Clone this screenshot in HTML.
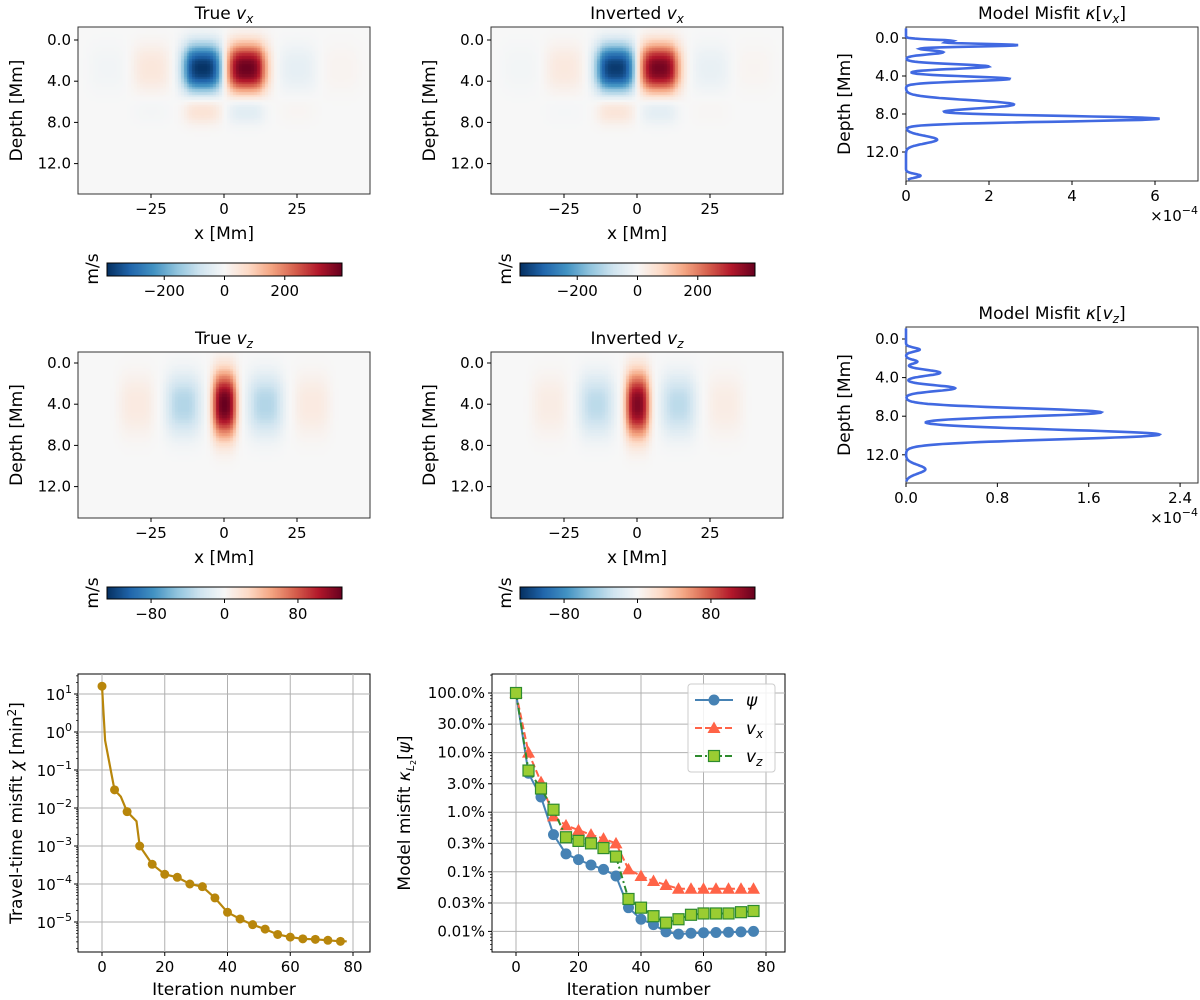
<!DOCTYPE html>
<html><head><meta charset="utf-8">
<style>
html,body{margin:0;padding:0;background:#fff;}
#wrap{position:relative;width:1200px;height:1000px;overflow:hidden;}
svg{position:absolute;left:0;top:0;}
canvas{position:absolute;}
text{font-family:"DejaVu Sans","Liberation Sans",sans-serif;fill:#000;}
</style></head>
<body>
<div id="wrap">
<canvas id="h1" width="292" height="167" style="left:78px;top:27px"></canvas>
<canvas id="h2" width="292" height="167" style="left:491px;top:27px"></canvas>
<canvas id="h3" width="292" height="166" style="left:78px;top:352px"></canvas>
<canvas id="h4" width="292" height="166" style="left:491px;top:352px"></canvas>
<canvas id="c1" width="235" height="13" style="left:107px;top:263px"></canvas>
<canvas id="c2" width="235" height="13" style="left:520px;top:263px"></canvas>
<canvas id="c3" width="235" height="12" style="left:107px;top:587px"></canvas>
<canvas id="c4" width="235" height="12" style="left:520px;top:587px"></canvas>
<svg id="s" width="1200" height="1000" xmlns="http://www.w3.org/2000/svg"></svg>
</div>
<script>
// ---------- DATA ----------
const vxTrueX   = [-7.5, 7.5, -25, 25, -40, 40, -7.5, 7.5, -25, 25];
const vxTrueZ   = [2.7, 2.7, 2.7, 2.7, 2.7, 2.7, 6.7, 6.7, 6.7, 6.7];
const vxTrueA   = [-385, 385, 45, -35, -12, 12, 60, -50, -8, 8];
const vxInvA    = [-375, 375, 40, -30, -10, 10, 55, -45, -6, 6];
const vxSX      = [7, 7, 6.5, 6.5, 6.5, 6.5, 6.5, 6.5, 6.5, 6.5];
const vxSZ      = [2.3, 2.3, 2.3, 2.3, 2.3, 2.3, 1.4, 1.4, 1.4, 1.4];
const vzTrueX   = [0, -14, 14, -30, 30];
const vzTrueZ   = [4, 4, 4, 4, 4];
const vzTrueA   = [128, -38, -38, 12, 12];
const vzInvA    = [120, -34, -34, 10, 10];
const vzSX      = [4.2, 6, 6, 6, 6];
const vzSZ      = [3.1, 2.9, 2.9, 2.9, 2.9];
const vxRange = 390, vzRange = 128;
const vxCbTicks = [-200, 0, 200];
const vzCbTicks = [-80, 0, 80];

const kxDepth  = [0.3, 0.75, 1.5, 3.0, 4.3, 7.0, 8.5, 10.7, 14.5];
const kxHeight = [1.1, 2.7, 0.9, 2.0, 2.5, 2.6, 6.1, 0.75, 0.35];
const kxWidth  = [0.13, 0.15, 0.22, 0.24, 0.25, 0.45, 0.3, 0.4, 0.2];
const kzDepth  = [1.1, 2.35, 3.5, 5.1, 7.6, 9.9, 13.5];
const kzHeight = [0.12, 0.1, 0.3, 0.43, 1.71, 2.22, 0.17];
const kzWidth  = [0.2, 0.2, 0.3, 0.3, 0.42, 0.5, 0.45];

const ttIter = [0, 1, 4, 6, 8, 11, 12, 16, 20, 24, 28, 32, 36, 40, 44, 48, 52, 56, 60, 64, 68, 72, 76, 78];
const ttVal  = [16, 0.6, 0.03, 0.02, 0.008, 0.0045, 0.001, 3.3e-4, 1.8e-4, 1.5e-4, 1.0e-4, 8.5e-5, 4.3e-5, 1.8e-5, 1.2e-5, 8.5e-6, 6.5e-6, 4.7e-6, 4.0e-6, 3.6e-6, 3.5e-6, 3.3e-6, 3.1e-6, 3.1e-6];
const mIter = [0, 4, 8, 12, 16, 20, 24, 28, 32, 36, 40, 44, 48, 52, 56, 60, 64, 68, 72, 76];
const psiVal = [100, 4.5, 1.8, 0.42, 0.2, 0.16, 0.13, 0.11, 0.085, 0.025, 0.016, 0.013, 0.0098, 0.009, 0.0093, 0.0095, 0.0096, 0.0097, 0.0098, 0.01];
const vxVal  = [100, 10, 3.2, 0.85, 0.6, 0.5, 0.42, 0.36, 0.3, 0.11, 0.085, 0.07, 0.06, 0.052, 0.052, 0.052, 0.052, 0.052, 0.052, 0.052];
const vzVal  = [100, 5, 2.5, 1.1, 0.38, 0.33, 0.3, 0.25, 0.18, 0.035, 0.025, 0.018, 0.014, 0.016, 0.019, 0.02, 0.02, 0.02, 0.021, 0.022];
const pctTicks = [100, 30, 10, 3, 1, 0.3, 0.1, 0.03, 0.01];
const pctLabels = ['100.0%', '30.0%', '10.0%', '3.0%', '1.0%', '0.3%', '0.1%', '0.03%', '0.01%'];

// ---------- HELPERS ----------
const NS = 'http://www.w3.org/2000/svg';
const S = document.getElementById('s');
function el(t, a, p) { const e = document.createElementNS(NS, t); for (const k in a) e.setAttribute(k, a[k]); (p || S).appendChild(e); return e; }
function tag(e, n) {
  
  
  return e;
}
function txt(x, y, s, size, anchor, name, rot) {
  const t = el('text', { x: x, y: y, 'font-size': size, 'text-anchor': anchor || 'middle' });
  if (rot) t.setAttribute('transform', 'rotate(-90 ' + x + ' ' + y + ')');
  t.innerHTML = s;
  tag(t, name);
  return t;
}
const RdBu = ['#053061', '#2166ac', '#4393c3', '#92c5de', '#d1e5f0', '#f7f7f7', '#fddbc7', '#f4a582', '#d6604d', '#b2182b', '#67001f'];
function hex(h) { return [parseInt(h.substr(1, 2), 16), parseInt(h.substr(3, 2), 16), parseInt(h.substr(5, 2), 16)]; }
const RdBuRGB = RdBu.map(hex);
function cmap(v) {
  v = Math.max(-1, Math.min(1, v));
  const f = (v + 1) / 2 * 10; const i = Math.min(9, Math.floor(f)); const r = f - i;
  const a = RdBuRGB[i], b = RdBuRGB[i + 1];
  return [a[0] + (b[0] - a[0]) * r, a[1] + (b[1] - a[1]) * r, a[2] + (b[2] - a[2]) * r];
}
function field(x, z, X, Z, A, SX, SZ) {
  let s = 0;
  for (let i = 0; i < X.length; i++) {
    const dx = Math.abs(x - X[i]) / SX[i], dz = Math.abs(z - Z[i]) / SZ[i];
    s += A[i] * Math.exp(-Math.pow(dx, 3.2) - Math.pow(dz, 2.4));
  }
  return s;
}
function heat(id, X, Z, A, SX, SZ, range, zTop, zPerPx) {
  const c = document.getElementById(id), ctx = c.getContext('2d');
  const img = ctx.createImageData(c.width, c.height);
  for (let py = 0; py < c.height; py++) for (let px = 0; px < c.width; px++) {
    let x = -50 + px / c.width * 100, z = zTop + py * zPerPx;
    x = Math.floor(x + 50) - 50 + 0.5; z = Math.floor(z * 4) / 4 + 0.125;
    const col = cmap(field(x, z, X, Z, A, SX, SZ) / range);
    const k = (py * c.width + px) * 4;
    img.data[k] = col[0]; img.data[k + 1] = col[1]; img.data[k + 2] = col[2]; img.data[k + 3] = 255;
  }
  ctx.putImageData(img, 0, 0);
}
function cbar(id) {
  const c = document.getElementById(id), ctx = c.getContext('2d');
  for (let px = 0; px < c.width; px++) { const col = cmap(-1 + 2 * (px + 0.5) / c.width); ctx.fillStyle = 'rgb(' + col.map(Math.round).join(',') + ')'; ctx.fillRect(px, 0, 1, c.height); }
}

heat('h1', vxTrueX, vxTrueZ, vxTrueA, vxSX, vxSZ, vxRange, -1.26, 1 / 10.3);
heat('h2', vxTrueX, vxTrueZ, vxInvA, vxSX, vxSZ, vxRange, -1.26, 1 / 10.3);
heat('h3', vzTrueX, vzTrueZ, vzTrueA, vzSX, vzSZ, vzRange, -1.07, 1 / 10.3);
heat('h4', vzTrueX, vzTrueZ, vzInvA, vzSX, vzSZ, vzRange, -1.07, 1 / 10.3);
['c1', 'c2', 'c3', 'c4'].forEach(cbar);

function heatPanel(L, T, H, y0, title, cbT, cbH, cbTicks, range, nm) {
  const W = 292;
  const fr = el('rect', { x: L, y: T, width: W, height: H, fill: 'none', stroke: '#333', 'stroke-width': 1 });
  tag(fr, nm + '-frame');
  txt(L + W / 2, T - 8, title, 17, 'middle', nm + '-title');
  [0, 4, 8, 12].forEach(d => {
    const y = y0 + d * 10.3;
    el('line', { x1: L - 4, x2: L, y1: y, y2: y, stroke: '#000' });
    txt(L - 7, y + 5, d.toFixed(1), 15, 'end', nm + '-ytick');
  });
  [-25, 0, 25].forEach(v => {
    const x = L + (v + 50) / 100 * W;
    el('line', { x1: x, x2: x, y1: T + H, y2: T + H + 4, stroke: '#000' });
    txt(x, T + H + 20, (v < 0 ? '\u2212' + (-v) : v), 15, 'middle', nm + '-xtick');
  });
  txt(L - 56, T + H / 2, 'Depth [Mm]', 17, 'middle', nm + '-ylabel', true);
  txt(L + W / 2, T + H + 45, 'x [Mm]', 17, 'middle', nm + '-xlabel');
  const cl = L + 29, cw = 235;
  const cf = el('rect', { x: cl, y: cbT, width: cw, height: cbH, fill: 'none', stroke: '#000', 'stroke-width': 1 });
  tag(cf, nm + '-colorbar-frame');
  cbTicks.forEach(v => {
    const x = cl + (v + range) / (2 * range) * cw;
    el('line', { x1: x, x2: x, y1: cbT + cbH, y2: cbT + cbH + 4, stroke: '#000' });
    txt(x, cbT + cbH + 20, (v < 0 ? '\u2212' + (-v) : v), 15, 'middle', nm + '-colorbar-tick');
  });
  txt(L + 20, cbT + 6, 'm/s', 17, 'middle', nm + '-colorbar-label', true);
}
const vsub = s => '<tspan font-style="italic">v</tspan><tspan font-style="italic" font-size="12" dy="4">' + s + '</tspan>';
heatPanel(78, 27, 167, 40, 'True ' + vsub('x'), 263, 13, vxCbTicks, vxRange, 'true-vx');
heatPanel(491, 27, 167, 40, 'Inverted ' + vsub('x'), 263, 13, vxCbTicks, vxRange, 'inverted-vx');
heatPanel(78, 352, 166, 363, 'True ' + vsub('z'), 587, 12, vzCbTicks, vzRange, 'true-vz');
heatPanel(491, 352, 166, 363, 'Inverted ' + vsub('z'), 587, 12, vzCbTicks, vzRange, 'inverted-vz');

function profile(T, B, y0, pxPerMm, xPer, ticks, tickLbl, D, Hh, Wd, title, nm) {
  const L = 906, R = 1198;
  const fr = el('rect', { x: L, y: T, width: R - L, height: B - T, fill: 'none', stroke: '#333' });
  tag(fr, nm + '-frame');
  txt((L + R) / 2, T - 8, title, 17, 'middle', nm + '-title');
  [0, 4, 8, 12].forEach(d => {
    const y = y0 + d * pxPerMm;
    el('line', { x1: L - 4, x2: L, y1: y, y2: y, stroke: '#000' });
    txt(L - 7, y + 5, d.toFixed(1), 15, 'end', nm + '-ytick');
  });
  ticks.forEach((v, i) => {
    const x = L + v * xPer;
    el('line', { x1: x, x2: x, y1: B, y2: B + 4, stroke: '#000' });
    txt(x, B + 20, tickLbl[i], 15, 'middle', nm + '-xtick');
  });
  txt(1198, B + 40, '\u00d710<tspan font-size="11" dy="-7">\u22124</tspan>', 15, 'end', nm + '-offset-label');
  txt(L - 56, (T + B) / 2, 'Depth [Mm]', 17, 'middle', nm + '-ylabel', true);
  const zTop = (T - y0) / pxPerMm, zBot = (B - y0) / pxPerMm;
  let d = '';
  for (let i = 0; i <= 400; i++) {
    const z = zTop + 0.15 + (zBot - zTop - 0.3) * i / 400;
    let v = 0;
    for (let k = 0; k < D.length; k++) v += Hh[k] * Math.exp(-Math.pow((z - D[k]) / Wd[k], 2) / 2);
    d += (i ? 'L' : 'M') + (L + v * xPer).toFixed(1) + ',' + (y0 + z * pxPerMm).toFixed(1);
  }
  const p = el('path', { d: d, fill: 'none', stroke: '#4169e1', 'stroke-width': 2.6 });
  tag(p, nm + '-curve');
}
const ksub = s => 'Model Misfit <tspan font-style="italic">\u03ba</tspan>[' + vsub(s) + '<tspan dy="-4">]</tspan>';
profile(27, 181, 38, 9.5, 41.5, [0, 2, 4, 6], ['0', '2', '4', '6'], kxDepth, kxHeight, kxWidth, ksub('x'), 'misfit-vx');
profile(327, 483, 339, 9.65, 114.2, [0, 0.8, 1.6, 2.4], ['0.0', '0.8', '1.6', '2.4'], kzDepth, kzHeight, kzWidth, ksub('z'), 'misfit-vz');

function logPanel(L, R, T, B, x0, xPer, yOfLog, logMin, logMax, nm) {
  const fr = el('rect', { x: L, y: T, width: R - L, height: B - T, fill: 'none', stroke: '#000' });
  tag(fr, nm + '-frame');
  [0, 20, 40, 60, 80].forEach(v => {
    const x = x0 + v * xPer;
    el('line', { x1: x, x2: x, y1: T, y2: B, stroke: '#b0b0b0', 'stroke-width': 1 });
    el('line', { x1: x, x2: x, y1: B, y2: B + 4, stroke: '#000' });
    txt(x, B + 20, v, 15, 'middle', nm + '-xtick');
  });
  for (let e = Math.floor(logMin); e <= Math.ceil(logMax); e++) for (let m = 2; m < 10; m++) {
    const lv = e + Math.log10(m);
    if (lv < logMin || lv > logMax) continue;
    const y = yOfLog(lv);
    el('line', { x1: L - 2, x2: L, y1: y, y2: y, stroke: '#000', 'stroke-width': 0.7 });
  }
  txt((L + R) / 2, B + 43, 'Iteration number', 17, 'middle', nm + '-xlabel');
}
const ttL = 78, ttR = 370, ttT = 674, ttB = 952;
const ttX = v => 102 + v * 3.1375;
const ttY = lv => 694 + (1 - lv) * 38;
logPanel(ttL, ttR, ttT, ttB, 102, 3.1375, ttY, -5.79, 1.53, 'travel-time');
for (let e = -5; e <= 1; e++) {
  const y = ttY(e);
  el('line', { x1: ttL, x2: ttR, y1: y, y2: y, stroke: '#b0b0b0' });
  el('line', { x1: ttL - 4, x2: ttL, y1: y, y2: y, stroke: '#000' });
  txt(ttL - 6, y + 6, '10<tspan font-size="11" dy="-7">' + (e < 0 ? '\u2212' + (-e) : e) + '</tspan>', 15, 'end', 'travel-time-ytick');
}
txt(22, 813, 'Travel-time misfit <tspan font-style="italic">\u03c7</tspan> [min<tspan font-size="12" dy="-6">2</tspan><tspan dy="6">]</tspan>', 17, 'middle', 'travel-time-ylabel', true);
let ttd = '';
ttIter.forEach((v, i) => { ttd += (i ? 'L' : 'M') + ttX(v).toFixed(1) + ',' + ttY(Math.log10(ttVal[i])).toFixed(1); });
const ttl = el('path', { d: ttd, fill: 'none', stroke: '#b8860b', 'stroke-width': 2.2 });
tag(ttl, 'travel-time-line');
ttIter.forEach((v, i) => {
  if (v % 4 !== 0) return;
  const c = el('circle', { cx: ttX(v), cy: ttY(Math.log10(ttVal[i])), r: 4.5, fill: '#b8860b' });
  tag(c, 'travel-time-point');
});

const mL = 492, mR = 785, mT = 674, mB = 952;
const mX = v => 516 + v * 3.125;
const mY = lv => 693 + (2 - lv) * 59.6;
logPanel(mL, mR, mT, mB, 516, 3.125, mY, -2.35, 2.31, 'model-misfit');
pctTicks.forEach((v, i) => {
  const y = mY(Math.log10(v));
  el('line', { x1: mL, x2: mR, y1: y, y2: y, stroke: '#b0b0b0' });
  el('line', { x1: mL - 4, x2: mL, y1: y, y2: y, stroke: '#000' });
  txt(mL - 7, y + 5, pctLabels[i], 15, 'end', 'model-misfit-ytick');
});
txt(410, 813, 'Model misfit <tspan font-style="italic">\u03ba</tspan><tspan font-style="italic" font-size="11" dy="4">L</tspan><tspan font-size="8" dy="2">2</tspan><tspan dy="-6">[</tspan><tspan font-style="italic">\u03c8</tspan>]', 17, 'middle', 'model-misfit-ylabel', true);
function series(vals, color, dash, marker, fill, edge, nm) {
  let d = '';
  mIter.forEach((v, i) => { d += (i ? 'L' : 'M') + mX(v).toFixed(1) + ',' + mY(Math.log10(vals[i])).toFixed(1); });
  const p = el('path', { d: d, fill: 'none', stroke: color, 'stroke-width': 2, 'stroke-dasharray': dash });
  tag(p, nm + '-line');
  mIter.forEach((v, i) => {
    const m = drawMarker(marker, mX(v), mY(Math.log10(vals[i])), fill, edge);
    tag(m, nm + '-point');
  });
}
function drawMarker(kind, x, y, fill, edge) {
  if (kind === 'o') return el('circle', { cx: x, cy: y, r: 5.5, fill: fill });
  if (kind === '^') return el('path', { d: `M${x},${y - 6.5}L${x + 6.5},${y + 5}L${x - 6.5},${y + 5}Z`, fill: fill });
  return el('rect', { x: x - 5.5, y: y - 5.5, width: 11, height: 11, fill: fill, stroke: edge, 'stroke-width': 1.2 });
}
series(psiVal, '#4682b4', '', 'o', '#4682b4', '', 'psi');
series(vxVal, '#ff6347', '7,3', '^', '#ff6347', '', 'vx');
series(vzVal, '#2e8b2e', '7,3,2,3', 's', '#9acd32', '#2e8b2e', 'vz');
const lg = el('rect', { x: 688, y: 684, width: 87, height: 88, rx: 3, fill: '#fff', 'fill-opacity': 0.85, stroke: '#ccc' });
tag(lg, 'legend-box');
[['#4682b4', '', 'o', '#4682b4', '', '<tspan font-style="italic">\u03c8</tspan>', 'legend-psi'],
 ['#ff6347', '7,3', '^', '#ff6347', '', vsub('x'), 'legend-vx'],
 ['#2e8b2e', '7,3,2,3', 's', '#9acd32', '#2e8b2e', vsub('z'), 'legend-vz']].forEach((e, i) => {
  const y = 700 + i * 28;
  const ln = el('line', { x1: 695, x2: 733, y1: y, y2: y, stroke: e[0], 'stroke-width': 2, 'stroke-dasharray': e[1] });
  tag(ln, e[6] + '-line');
  const mk = drawMarker(e[2], 714, y, e[3], e[4]);
  tag(mk, e[6] + '-marker');
  txt(746, y + 6, e[5], 17, 'start', e[6] + '-label');
});
</script>
</body></html>
